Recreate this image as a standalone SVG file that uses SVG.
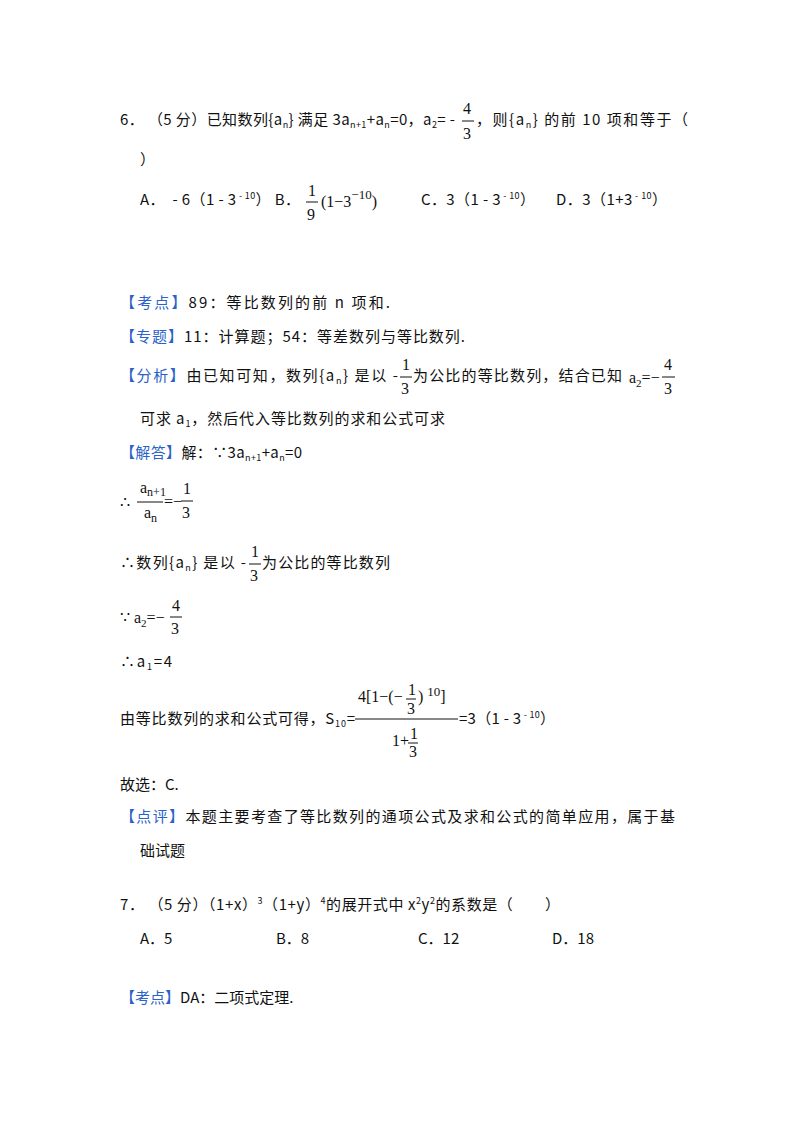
<svg xmlns="http://www.w3.org/2000/svg" width="800" height="1133" viewBox="0 0 800 1133" xml:space="preserve">
<style>
text{font-family:"Noto Sans CJK SC","Noto Sans",sans-serif;font-size:15px;fill:#111;white-space:pre}
.m{font-family:"Liberation Serif",serif;font-size:16px}
.b{fill:#2a62c9}
.s{font-size:9px}
line{stroke:#111;stroke-width:1}
</style>
<rect width="800" height="1133" fill="#fff"/>
<text x="120" y="125" textLength="335" lengthAdjust="spacing">6． （5 分）已知数列{a<tspan class="s" dy="3">n</tspan><tspan dy="-3">} 满足 3a</tspan><tspan class="s" dy="3">n+1</tspan><tspan dy="-3">+a</tspan><tspan class="s" dy="3">n</tspan><tspan dy="-3">=0，a</tspan><tspan class="s" dy="3">2</tspan><tspan dy="-3">= -</tspan></text>
<text class="m" x="463" y="114" font-size="18">4</text><line x1="462" y1="121" x2="474" y2="121"/><text class="m" x="463" y="139" font-size="18">3</text>
<text x="476" y="125" textLength="212" lengthAdjust="spacing">，则{a<tspan class="s" dy="3">n</tspan><tspan dy="-3">} 的前 10 项和等于（</tspan></text>
<text x="140" y="165">）</text>
<text x="140" y="205" textLength="160" lengthAdjust="spacing">A．  - 6（1 - 3<tspan class="s" dy="-6"> - 10</tspan><tspan dy="6">） B．</tspan></text>
<text class="m" x="308" y="196" font-size="17">1</text><line x1="306" y1="202" x2="318" y2="202"/><text class="m" x="307" y="220" font-size="17">9</text>
<text class="m" x="321" y="207">(1−3<tspan dy="-8" font-size="13">−10</tspan><tspan dy="8">)</tspan></text>
<text x="421" y="205" textLength="114" lengthAdjust="spacing">C．3（1 - 3<tspan class="s" dy="-6"> - 10</tspan><tspan dy="6">）</tspan></text>
<text x="556" y="205" textLength="111" lengthAdjust="spacing">D．3（1+3<tspan class="s" dy="-6"> - 10</tspan><tspan dy="6">）</tspan></text>

<text x="120" y="308" textLength="270" lengthAdjust="spacing"><tspan class="b">【考点】</tspan>89：等比数列的前 n 项和.</text>
<text x="120" y="342" textLength="345" lengthAdjust="spacing"><tspan class="b">【专题】</tspan>11：计算题；54：等差数列与等比数列.</text>
<text x="120" y="381" textLength="278" lengthAdjust="spacing"><tspan class="b">【分析】</tspan>由已知可知，数列{a<tspan class="s" dy="3">n</tspan><tspan dy="-3">} 是以 -</tspan></text>
<text class="m" x="402" y="370" font-size="17">1</text><line x1="400" y1="377" x2="412" y2="377"/><text class="m" x="401" y="394" font-size="17">3</text>
<text x="413" y="381" textLength="209" lengthAdjust="spacing">为公比的等比数列，结合已知</text>
<text class="m" x="629" y="383">a<tspan dy="4" font-size="11">2</tspan><tspan dy="-4">=−</tspan></text>
<text class="m" x="664" y="370" font-size="17">4</text><line x1="662" y1="377" x2="675" y2="377"/><text class="m" x="664" y="394" font-size="17">3</text>
<text x="140" y="424" textLength="305" lengthAdjust="spacing">可求 a<tspan class="s" dy="3">1</tspan><tspan dy="-3">，然后代入等比数列的求和公式可求</tspan></text>
<text x="120" y="458" textLength="182" lengthAdjust="spacing"><tspan class="b">【解答】</tspan>解：∵3a<tspan class="s" dy="3">n+1</tspan><tspan dy="-3">+a</tspan><tspan class="s" dy="3">n</tspan><tspan dy="-3">=0</tspan></text>

<text class="m" x="120" y="508">∴</text>
<text class="m" x="140" y="493">a<tspan dy="3" font-size="12">n+1</tspan></text><line x1="137" y1="502" x2="163" y2="502"/>
<text class="m" x="144" y="518">a<tspan dy="4" font-size="12">n</tspan></text>
<text class="m" x="164" y="507">=−</text>
<text class="m" x="183" y="494" font-size="17">1</text><line x1="181" y1="501" x2="193" y2="501"/><text class="m" x="182" y="518" font-size="17">3</text>

<text x="120" y="568" textLength="126" lengthAdjust="spacing">∴数列{a<tspan class="s" dy="3">n</tspan><tspan dy="-3">} 是以 -</tspan></text>
<text class="m" x="251" y="557" font-size="17">1</text><line x1="249" y1="564" x2="261" y2="564"/><text class="m" x="250" y="581" font-size="17">3</text>
<text x="262" y="568" textLength="128" lengthAdjust="spacing">为公比的等比数列</text>

<text class="m" x="120" y="623">∵ a<tspan dy="4" font-size="11">2</tspan><tspan dy="-4">=−</tspan></text>
<text class="m" x="172" y="611" font-size="17">4</text><line x1="170" y1="617" x2="182" y2="617"/><text class="m" x="171" y="634" font-size="17">3</text>
<text x="120" y="667" textLength="52" lengthAdjust="spacing">∴a<tspan class="s" dy="3">1</tspan><tspan dy="-3">=4</tspan></text>

<text x="120" y="724" textLength="235" lengthAdjust="spacing">由等比数列的求和公式可得，S<tspan class="s" dy="3">10</tspan><tspan dy="-3">=</tspan></text>
<text class="m" x="358" y="702" font-size="17">4[1−(−</text>
<text class="m" x="408" y="695" font-size="14">1</text><line x1="406" y1="699" x2="416" y2="699"/><text class="m" x="407" y="714" font-size="14">3</text>
<text class="m" x="418" y="702" font-size="17">) <tspan dy="-6" font-size="13">10</tspan><tspan dy="6">]</tspan></text>
<line x1="355" y1="719" x2="458" y2="719"/>
<text class="m" x="392" y="746" font-size="17">1+</text>
<text class="m" x="410" y="739" font-size="14">1</text><line x1="408" y1="743" x2="418" y2="743"/><text class="m" x="409" y="757" font-size="14">3</text>
<text x="459" y="724" textLength="96" lengthAdjust="spacing">=3（1 - 3<tspan class="s" dy="-6"> - 10</tspan><tspan dy="6">）</tspan></text>

<text x="120" y="790">故选：C.</text>
<text x="120" y="822" textLength="555" lengthAdjust="spacing"><tspan class="b">【点评】</tspan>本题主要考查了等比数列的通项公式及求和公式的简单应用，属于基</text>
<text x="140" y="856">础试题</text>

<text x="120" y="910" textLength="440" lengthAdjust="spacing">7． （5 分）（1+x）<tspan class="s" dy="-6">3</tspan><tspan dy="6">（1+y）</tspan><tspan class="s" dy="-6">4</tspan><tspan dy="6">的展开式中 x</tspan><tspan class="s" dy="-6">2</tspan><tspan dy="6">y</tspan><tspan class="s" dy="-6">2</tspan><tspan dy="6">的系数是（        ）</tspan></text>
<text x="140" y="944">A．5</text>
<text x="276" y="944">B．8</text>
<text x="418" y="944">C．12</text>
<text x="552" y="944">D．18</text>
<text x="120" y="1003"><tspan class="b">【考点】</tspan>DA：二项式定理.</text>
</svg>
